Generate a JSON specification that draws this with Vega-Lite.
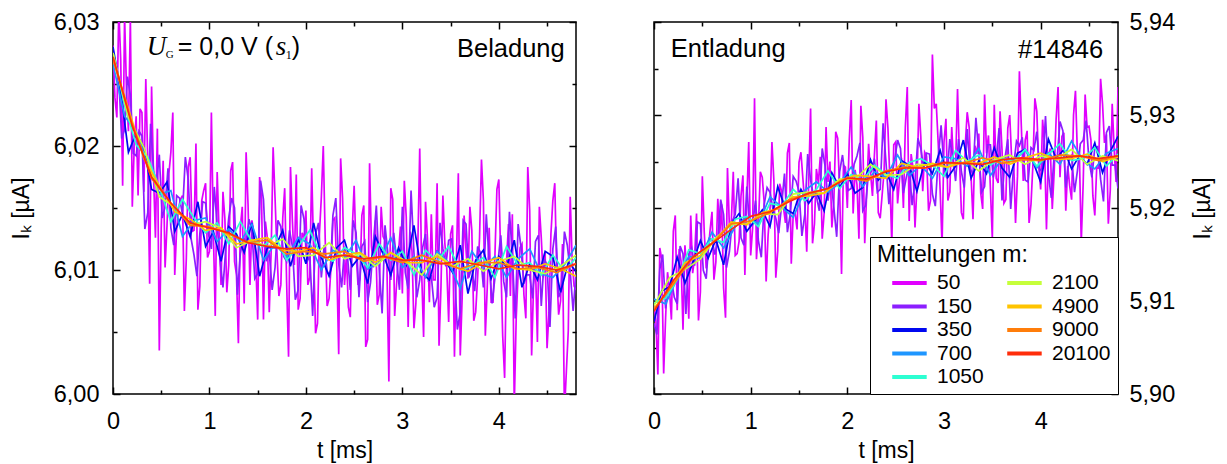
{
"$schema": "https://vega.github.io/schema/vega-lite/v6.json",
"background": "white",
"padding": {"left": 9, "right": 4, "top": 9, "bottom": 4},
"config": {
  "font": "Liberation Sans",
  "view": {"stroke": "black", "strokeWidth": 1.5},
  "axis": {"domain": false, "grid": false, "tickColor": "black", "tickWidth": 1.5, "labelColor": "black", "labelFontSize": 23.5, "labelFont": "Liberation Sans", "titleFont": "Liberation Sans", "titleFontSize": 23, "titleFontWeight": "normal", "titleColor": "black", "labelFlush": false, "labelOverlap": false}
},
"datasets": {
"L": [
{"m":50,"t":0,"v":6.0281},{"m":50,"t":0.04,"v":6.0223},{"m":50,"t":0.08,"v":6.0270},{"m":50,"t":0.12,"v":6.0305},{"m":50,"t":0.16,"v":6.0212},{"m":50,"t":0.2,"v":6.0151},{"m":50,"t":0.24,"v":6.0224},{"m":50,"t":0.28,"v":6.0230},{"m":50,"t":0.32,"v":6.0163},{"m":50,"t":0.36,"v":6.0189},
{"m":50,"t":0.4,"v":6.0248},{"m":50,"t":0.44,"v":6.0126},{"m":50,"t":0.48,"v":6.0035},{"m":50,"t":0.52,"v":6.0188},{"m":50,"t":0.56,"v":6.0136},{"m":50,"t":0.6,"v":6.0195},{"m":50,"t":0.64,"v":6.0096},{"m":50,"t":0.68,"v":6.0150},{"m":50,"t":0.72,"v":6.0160},{"m":50,"t":0.76,"v":6.0109},
{"m":50,"t":0.8,"v":6.0191},{"m":50,"t":0.84,"v":6.0132},{"m":50,"t":0.88,"v":6.0068},{"m":50,"t":0.92,"v":6.0156},{"m":50,"t":0.96,"v":6.0170},{"m":50,"t":1,"v":6.0115},{"m":50,"t":1.04,"v":6.0132},{"m":50,"t":1.08,"v":6.0179},{"m":50,"t":1.12,"v":6.0088},{"m":50,"t":1.16,"v":6.0141},
{"m":50,"t":1.2,"v":6.0104},{"m":50,"t":1.24,"v":6.0187},{"m":50,"t":1.28,"v":6.0096},{"m":50,"t":1.32,"v":6.0134},{"m":50,"t":1.36,"v":6.0073},{"m":50,"t":1.4,"v":6.0153},{"m":50,"t":1.44,"v":6.0140},{"m":50,"t":1.48,"v":6.0107},{"m":50,"t":1.52,"v":6.0175},{"m":50,"t":1.56,"v":6.0060},
{"m":50,"t":1.6,"v":6.0126},{"m":50,"t":1.64,"v":6.0116},{"m":50,"t":1.68,"v":6.0158},{"m":50,"t":1.72,"v":6.0079},{"m":50,"t":1.76,"v":6.0142},{"m":50,"t":1.8,"v":6.0090},{"m":50,"t":1.84,"v":6.0183},{"m":50,"t":1.88,"v":6.0104},{"m":50,"t":1.92,"v":6.0068},{"m":50,"t":1.96,"v":6.0130},
{"m":50,"t":2,"v":6.0148},{"m":50,"t":2.04,"v":6.0094},{"m":50,"t":2.08,"v":6.0114},{"m":50,"t":2.12,"v":6.0057},{"m":50,"t":2.16,"v":6.0159},{"m":50,"t":2.2,"v":6.0125},{"m":50,"t":2.24,"v":6.0077},{"m":50,"t":2.28,"v":6.0140},{"m":50,"t":2.32,"v":6.0103},{"m":50,"t":2.36,"v":6.0190},
{"m":50,"t":2.4,"v":6.0088},{"m":50,"t":2.44,"v":6.0070},{"m":50,"t":2.48,"v":6.0132},{"m":50,"t":2.52,"v":6.0114},{"m":50,"t":2.56,"v":6.0093},{"m":50,"t":2.6,"v":6.0152},{"m":50,"t":2.64,"v":6.0044},{"m":50,"t":2.68,"v":6.0119},{"m":50,"t":2.72,"v":6.0140},{"m":50,"t":2.76,"v":6.0080},
{"m":50,"t":2.8,"v":6.0127},{"m":50,"t":2.84,"v":6.0103},{"m":50,"t":2.88,"v":6.0166},{"m":50,"t":2.92,"v":6.0063},{"m":50,"t":2.96,"v":6.0114},{"m":50,"t":3,"v":6.0081},{"m":50,"t":3.04,"v":6.0143},{"m":50,"t":3.08,"v":6.0131},{"m":50,"t":3.12,"v":6.0053},{"m":50,"t":3.16,"v":6.0119},
{"m":50,"t":3.2,"v":6.0098},{"m":50,"t":3.24,"v":6.0155},{"m":50,"t":3.28,"v":6.0074},{"m":50,"t":3.32,"v":6.0092},{"m":50,"t":3.36,"v":6.0170},{"m":50,"t":3.4,"v":6.0086},{"m":50,"t":3.44,"v":6.0122},{"m":50,"t":3.48,"v":6.0058},{"m":50,"t":3.52,"v":6.0136},{"m":50,"t":3.56,"v":6.0106},
{"m":50,"t":3.6,"v":6.0031},{"m":50,"t":3.64,"v":6.0144},{"m":50,"t":3.68,"v":6.0093},{"m":50,"t":3.72,"v":6.0132},{"m":50,"t":3.76,"v":6.0066},{"m":50,"t":3.8,"v":6.0126},{"m":50,"t":3.84,"v":6.0156},{"m":50,"t":3.88,"v":6.0086},{"m":50,"t":3.92,"v":6.0074},{"m":50,"t":3.96,"v":6.0113},
{"m":50,"t":4,"v":6.0173},{"m":50,"t":4.04,"v":6.0047},{"m":50,"t":4.08,"v":6.0107},{"m":50,"t":4.12,"v":6.0079},{"m":50,"t":4.16,"v":5.9990},{"m":50,"t":4.2,"v":6.0097},{"m":50,"t":4.24,"v":6.0121},{"m":50,"t":4.28,"v":6.0061},{"m":50,"t":4.32,"v":6.0148},{"m":50,"t":4.36,"v":6.0088},
{"m":50,"t":4.4,"v":6.0042},{"m":50,"t":4.44,"v":6.0126},{"m":50,"t":4.48,"v":6.0114},{"m":50,"t":4.52,"v":6.0066},{"m":50,"t":4.56,"v":6.0156},{"m":50,"t":4.6,"v":6.0099},{"m":50,"t":4.64,"v":6.0075},{"m":50,"t":4.68,"v":5.9985},{"m":50,"t":4.72,"v":6.0051},{"m":50,"t":4.76,"v":6.0108},{"m":50,"t":4.8,"v":6.0084},
{"m":150,"t":0,"v":6.0269},{"m":150,"t":0.06,"v":6.0255},{"m":150,"t":0.12,"v":6.0213},{"m":150,"t":0.18,"v":6.0241},{"m":150,"t":0.24,"v":6.0192},{"m":150,"t":0.3,"v":6.0208},{"m":150,"t":0.36,"v":6.0146},{"m":150,"t":0.42,"v":6.0180},{"m":150,"t":0.48,"v":6.0193},{"m":150,"t":0.54,"v":6.0151},
{"m":150,"t":0.6,"v":6.0134},{"m":150,"t":0.66,"v":6.0160},{"m":150,"t":0.72,"v":6.0145},{"m":150,"t":0.78,"v":6.0173},{"m":150,"t":0.84,"v":6.0112},{"m":150,"t":0.9,"v":6.0129},{"m":150,"t":0.96,"v":6.0154},{"m":150,"t":1.02,"v":6.0117},{"m":150,"t":1.08,"v":6.0136},{"m":150,"t":1.14,"v":6.0086},
{"m":150,"t":1.2,"v":6.0142},{"m":150,"t":1.26,"v":6.0150},{"m":150,"t":1.32,"v":6.0113},{"m":150,"t":1.38,"v":6.0122},{"m":150,"t":1.44,"v":6.0132},{"m":150,"t":1.5,"v":6.0097},{"m":150,"t":1.56,"v":6.0157},{"m":150,"t":1.62,"v":6.0114},{"m":150,"t":1.68,"v":6.0102},{"m":150,"t":1.74,"v":6.0135},
{"m":150,"t":1.8,"v":6.0107},{"m":150,"t":1.86,"v":6.0119},{"m":150,"t":1.92,"v":6.0084},{"m":150,"t":1.98,"v":6.0141},{"m":150,"t":2.04,"v":6.0112},{"m":150,"t":2.1,"v":6.0129},{"m":150,"t":2.16,"v":6.0094},{"m":150,"t":2.22,"v":6.0099},{"m":150,"t":2.28,"v":6.0144},{"m":150,"t":2.34,"v":6.0105},
{"m":150,"t":2.4,"v":6.0117},{"m":150,"t":2.46,"v":6.0084},{"m":150,"t":2.52,"v":6.0130},{"m":150,"t":2.58,"v":6.0119},{"m":150,"t":2.64,"v":6.0074},{"m":150,"t":2.7,"v":6.0122},{"m":150,"t":2.76,"v":6.0101},{"m":150,"t":2.82,"v":6.0136},{"m":150,"t":2.88,"v":6.0092},{"m":150,"t":2.94,"v":6.0108},
{"m":150,"t":3,"v":6.0151},{"m":150,"t":3.06,"v":6.0085},{"m":150,"t":3.12,"v":6.0114},{"m":150,"t":3.18,"v":6.0092},{"m":150,"t":3.24,"v":6.0129},{"m":150,"t":3.3,"v":6.0095},{"m":150,"t":3.36,"v":6.0078},{"m":150,"t":3.42,"v":6.0117},{"m":150,"t":3.48,"v":6.0124},{"m":150,"t":3.54,"v":6.0100},
{"m":150,"t":3.6,"v":6.0066},{"m":150,"t":3.66,"v":6.0137},{"m":150,"t":3.72,"v":6.0103},{"m":150,"t":3.78,"v":6.0119},{"m":150,"t":3.84,"v":6.0086},{"m":150,"t":3.9,"v":6.0107},{"m":150,"t":3.96,"v":6.0094},{"m":150,"t":4.02,"v":6.0128},{"m":150,"t":4.08,"v":6.0078},{"m":150,"t":4.14,"v":6.0112},
{"m":150,"t":4.2,"v":6.0137},{"m":150,"t":4.26,"v":6.0089},{"m":150,"t":4.32,"v":6.0096},{"m":150,"t":4.38,"v":6.0123},{"m":150,"t":4.44,"v":6.0071},{"m":150,"t":4.5,"v":6.0104},{"m":150,"t":4.56,"v":6.0117},{"m":150,"t":4.62,"v":6.0078},{"m":150,"t":4.68,"v":6.0131},{"m":150,"t":4.74,"v":6.0099},{"m":150,"t":4.8,"v":6.0097},
{"m":350,"t":0,"v":6.0280},{"m":350,"t":0.08,"v":6.0244},{"m":350,"t":0.16,"v":6.0195},{"m":350,"t":0.24,"v":6.0210},{"m":350,"t":0.32,"v":6.0199},{"m":350,"t":0.4,"v":6.0165},{"m":350,"t":0.48,"v":6.0162},{"m":350,"t":0.56,"v":6.0171},{"m":350,"t":0.64,"v":6.0131},{"m":350,"t":0.72,"v":6.0145},
{"m":350,"t":0.8,"v":6.0127},{"m":350,"t":0.88,"v":6.0155},{"m":350,"t":0.96,"v":6.0119},{"m":350,"t":1.04,"v":6.0131},{"m":350,"t":1.12,"v":6.0107},{"m":350,"t":1.2,"v":6.0135},{"m":350,"t":1.28,"v":6.0129},{"m":350,"t":1.36,"v":6.0114},{"m":350,"t":1.44,"v":6.0138},{"m":350,"t":1.52,"v":6.0095},
{"m":350,"t":1.6,"v":6.0118},{"m":350,"t":1.68,"v":6.0118},{"m":350,"t":1.76,"v":6.0132},{"m":350,"t":1.84,"v":6.0103},{"m":350,"t":1.92,"v":6.0125},{"m":350,"t":2,"v":6.0105},{"m":350,"t":2.08,"v":6.0138},{"m":350,"t":2.16,"v":6.0110},{"m":350,"t":2.24,"v":6.0095},{"m":350,"t":2.32,"v":6.0118},
{"m":350,"t":2.4,"v":6.0124},{"m":350,"t":2.48,"v":6.0103},{"m":350,"t":2.56,"v":6.0111},{"m":350,"t":2.64,"v":6.0089},{"m":350,"t":2.72,"v":6.0127},{"m":350,"t":2.8,"v":6.0113},{"m":350,"t":2.88,"v":6.0096},{"m":350,"t":2.96,"v":6.0118},{"m":350,"t":3.04,"v":6.0104},{"m":350,"t":3.12,"v":6.0136},
{"m":350,"t":3.2,"v":6.0098},{"m":350,"t":3.28,"v":6.0092},{"m":350,"t":3.36,"v":6.0115},{"m":350,"t":3.44,"v":6.0108},{"m":350,"t":3.52,"v":6.0098},{"m":350,"t":3.6,"v":6.0120},{"m":350,"t":3.68,"v":6.0081},{"m":350,"t":3.76,"v":6.0108},{"m":350,"t":3.84,"v":6.0116},{"m":350,"t":3.92,"v":6.0093},
{"m":350,"t":4,"v":6.0111},{"m":350,"t":4.08,"v":6.0102},{"m":350,"t":4.16,"v":6.0124},{"m":350,"t":4.24,"v":6.0086},{"m":350,"t":4.32,"v":6.0105},{"m":350,"t":4.4,"v":6.0092},{"m":350,"t":4.48,"v":6.0115},{"m":350,"t":4.56,"v":6.0111},{"m":350,"t":4.64,"v":6.0082},{"m":350,"t":4.72,"v":6.0106},{"m":350,"t":4.8,"v":6.0099},
{"m":700,"t":0,"v":6.0266},{"m":700,"t":0.12,"v":6.0224},{"m":700,"t":0.24,"v":6.0212},{"m":700,"t":0.36,"v":6.0184},{"m":700,"t":0.48,"v":6.0161},{"m":700,"t":0.6,"v":6.0164},{"m":700,"t":0.72,"v":6.0127},{"m":700,"t":0.84,"v":6.0140},{"m":700,"t":0.96,"v":6.0142},{"m":700,"t":1.08,"v":6.0123},
{"m":700,"t":1.2,"v":6.0133},{"m":700,"t":1.32,"v":6.0123},{"m":700,"t":1.44,"v":6.0137},{"m":700,"t":1.56,"v":6.0108},{"m":700,"t":1.68,"v":6.0121},{"m":700,"t":1.8,"v":6.0110},{"m":700,"t":1.92,"v":6.0126},{"m":700,"t":2.04,"v":6.0121},{"m":700,"t":2.16,"v":6.0100},{"m":700,"t":2.28,"v":6.0116},
{"m":700,"t":2.4,"v":6.0110},{"m":700,"t":2.52,"v":6.0124},{"m":700,"t":2.64,"v":6.0101},{"m":700,"t":2.76,"v":6.0106},{"m":700,"t":2.88,"v":6.0126},{"m":700,"t":3,"v":6.0102},{"m":700,"t":3.12,"v":6.0111},{"m":700,"t":3.24,"v":6.0094},{"m":700,"t":3.36,"v":6.0115},{"m":700,"t":3.48,"v":6.0106},
{"m":700,"t":3.6,"v":6.0085},{"m":700,"t":3.72,"v":6.0115},{"m":700,"t":3.84,"v":6.0102},{"m":700,"t":3.96,"v":6.0111},{"m":700,"t":4.08,"v":6.0094},{"m":700,"t":4.2,"v":6.0109},{"m":700,"t":4.32,"v":6.0117},{"m":700,"t":4.44,"v":6.0097},{"m":700,"t":4.56,"v":6.0094},{"m":700,"t":4.68,"v":6.0104},{"m":700,"t":4.8,"v":6.0120},
{"m":1050,"t":0,"v":6.0275},{"m":1050,"t":0.12,"v":6.0233},{"m":1050,"t":0.24,"v":6.0201},{"m":1050,"t":0.36,"v":6.0191},{"m":1050,"t":0.48,"v":6.0167},{"m":1050,"t":0.6,"v":6.0139},{"m":1050,"t":0.72,"v":6.0157},{"m":1050,"t":0.84,"v":6.0142},{"m":1050,"t":0.96,"v":6.0130},{"m":1050,"t":1.08,"v":6.0138},
{"m":1050,"t":1.2,"v":6.0121},{"m":1050,"t":1.32,"v":6.0139},{"m":1050,"t":1.44,"v":6.0123},{"m":1050,"t":1.56,"v":6.0119},{"m":1050,"t":1.68,"v":6.0128},{"m":1050,"t":1.8,"v":6.0108},{"m":1050,"t":1.92,"v":6.0119},{"m":1050,"t":2.04,"v":6.0132},{"m":1050,"t":2.16,"v":6.0111},{"m":1050,"t":2.28,"v":6.0107},
{"m":1050,"t":2.4,"v":6.0118},{"m":1050,"t":2.52,"v":6.0113},{"m":1050,"t":2.64,"v":6.0102},{"m":1050,"t":2.76,"v":6.0121},{"m":1050,"t":2.88,"v":6.0108},{"m":1050,"t":3,"v":6.0115},{"m":1050,"t":3.12,"v":6.0096},{"m":1050,"t":3.24,"v":6.0116},{"m":1050,"t":3.36,"v":6.0107},{"m":1050,"t":3.48,"v":6.0119},
{"m":1050,"t":3.6,"v":6.0100},{"m":1050,"t":3.72,"v":6.0103},{"m":1050,"t":3.84,"v":6.0110},{"m":1050,"t":3.96,"v":6.0094},{"m":1050,"t":4.08,"v":6.0119},{"m":1050,"t":4.2,"v":6.0104},{"m":1050,"t":4.32,"v":6.0106},{"m":1050,"t":4.44,"v":6.0096},{"m":1050,"t":4.56,"v":6.0112},{"m":1050,"t":4.68,"v":6.0099},{"m":1050,"t":4.8,"v":6.0110},
{"m":2100,"t":0,"v":6.0275},{"m":2100,"t":0.16,"v":6.0223},{"m":2100,"t":0.32,"v":6.0199},{"m":2100,"t":0.48,"v":6.0159},{"m":2100,"t":0.64,"v":6.0151},{"m":2100,"t":0.8,"v":6.0136},{"m":2100,"t":0.96,"v":6.0139},{"m":2100,"t":1.12,"v":6.0134},{"m":2100,"t":1.28,"v":6.0118},{"m":2100,"t":1.44,"v":6.0124},
{"m":2100,"t":1.6,"v":6.0119},{"m":2100,"t":1.76,"v":6.0125},{"m":2100,"t":1.92,"v":6.0111},{"m":2100,"t":2.08,"v":6.0112},{"m":2100,"t":2.24,"v":6.0122},{"m":2100,"t":2.4,"v":6.0109},{"m":2100,"t":2.56,"v":6.0113},{"m":2100,"t":2.72,"v":6.0103},{"m":2100,"t":2.88,"v":6.0114},{"m":2100,"t":3.04,"v":6.0107},
{"m":2100,"t":3.2,"v":6.0096},{"m":2100,"t":3.36,"v":6.0113},{"m":2100,"t":3.52,"v":6.0103},{"m":2100,"t":3.68,"v":6.0109},{"m":2100,"t":3.84,"v":6.0099},{"m":2100,"t":4,"v":6.0107},{"m":2100,"t":4.16,"v":6.0111},{"m":2100,"t":4.32,"v":6.0100},{"m":2100,"t":4.48,"v":6.0097},{"m":2100,"t":4.64,"v":6.0103},{"m":2100,"t":4.8,"v":6.0112},
{"m":4900,"t":0,"v":6.0270},{"m":4900,"t":0.16,"v":6.0230},{"m":4900,"t":0.32,"v":6.0190},{"m":4900,"t":0.48,"v":6.0168},{"m":4900,"t":0.64,"v":6.0147},{"m":4900,"t":0.8,"v":6.0141},{"m":4900,"t":0.96,"v":6.0132},{"m":4900,"t":1.12,"v":6.0134},{"m":4900,"t":1.28,"v":6.0121},{"m":4900,"t":1.44,"v":6.0124},
{"m":4900,"t":1.6,"v":6.0126},{"m":4900,"t":1.76,"v":6.0116},{"m":4900,"t":1.92,"v":6.0115},{"m":4900,"t":2.08,"v":6.0118},{"m":4900,"t":2.24,"v":6.0108},{"m":4900,"t":2.4,"v":6.0112},{"m":4900,"t":2.56,"v":6.0114},{"m":4900,"t":2.72,"v":6.0106},{"m":4900,"t":2.88,"v":6.0114},{"m":4900,"t":3.04,"v":6.0106},
{"m":4900,"t":3.2,"v":6.0106},{"m":4900,"t":3.36,"v":6.0111},{"m":4900,"t":3.52,"v":6.0103},{"m":4900,"t":3.68,"v":6.0099},{"m":4900,"t":3.84,"v":6.0106},{"m":4900,"t":4,"v":6.0110},{"m":4900,"t":4.16,"v":6.0101},{"m":4900,"t":4.32,"v":6.0100},{"m":4900,"t":4.48,"v":6.0105},{"m":4900,"t":4.64,"v":6.0101},{"m":4900,"t":4.8,"v":6.0095},
{"m":9000,"t":0,"v":6.0270},{"m":9000,"t":0.2,"v":6.0218},{"m":9000,"t":0.4,"v":6.0174},{"m":9000,"t":0.6,"v":6.0154},{"m":9000,"t":0.8,"v":6.0136},{"m":9000,"t":1,"v":6.0135},{"m":9000,"t":1.2,"v":6.0129},{"m":9000,"t":1.4,"v":6.0122},{"m":9000,"t":1.6,"v":6.0124},{"m":9000,"t":1.8,"v":6.0113},
{"m":9000,"t":2,"v":6.0115},{"m":9000,"t":2.2,"v":6.0113},{"m":9000,"t":2.4,"v":6.0115},{"m":9000,"t":2.6,"v":6.0107},{"m":9000,"t":2.8,"v":6.0111},{"m":9000,"t":3,"v":6.0106},{"m":9000,"t":3.2,"v":6.0112},{"m":9000,"t":3.4,"v":6.0106},{"m":9000,"t":3.6,"v":6.0101},{"m":9000,"t":3.8,"v":6.0106},
{"m":9000,"t":4,"v":6.0106},{"m":9000,"t":4.2,"v":6.0101},{"m":9000,"t":4.4,"v":6.0102},{"m":9000,"t":4.6,"v":6.0098},{"m":9000,"t":4.8,"v":6.0105},
{"m":20100,"t":0,"v":6.0272},{"m":20100,"t":0.2,"v":6.0216},{"m":20100,"t":0.4,"v":6.0175},{"m":20100,"t":0.6,"v":6.0154},{"m":20100,"t":0.8,"v":6.0138},{"m":20100,"t":1,"v":6.0134},{"m":20100,"t":1.2,"v":6.0130},{"m":20100,"t":1.4,"v":6.0122},{"m":20100,"t":1.6,"v":6.0119},{"m":20100,"t":1.8,"v":6.0117},
{"m":20100,"t":2,"v":6.0118},{"m":20100,"t":2.2,"v":6.0110},{"m":20100,"t":2.4,"v":6.0112},{"m":20100,"t":2.6,"v":6.0109},{"m":20100,"t":2.8,"v":6.0111},{"m":20100,"t":3,"v":6.0108},{"m":20100,"t":3.2,"v":6.0108},{"m":20100,"t":3.4,"v":6.0105},{"m":20100,"t":3.6,"v":6.0107},{"m":20100,"t":3.8,"v":6.0104},
{"m":20100,"t":4,"v":6.0101},{"m":20100,"t":4.2,"v":6.0104},{"m":20100,"t":4.4,"v":6.0103},{"m":20100,"t":4.6,"v":6.0100},{"m":20100,"t":4.8,"v":6.0105},
{"m":50,"t":0.02,"v":6.0239},{"m":50,"t":0.06,"v":6.0310},{"m":50,"t":0.1,"v":6.0168},{"m":50,"t":0.14,"v":6.0245},{"m":50,"t":0.18,"v":6.0303},{"m":50,"t":0.22,"v":6.0199},{"m":50,"t":0.26,"v":6.0160},{"m":50,"t":0.3,"v":6.0227},{"m":50,"t":0.34,"v":6.0254},{"m":50,"t":0.38,"v":6.0089},
{"m":50,"t":0.42,"v":6.0177},{"m":50,"t":0.46,"v":6.0214},{"m":50,"t":0.5,"v":6.0133},{"m":50,"t":0.54,"v":6.0102},{"m":50,"t":0.58,"v":6.0178},{"m":50,"t":0.62,"v":6.0227},{"m":50,"t":0.66,"v":6.0133},{"m":50,"t":0.7,"v":6.0157},{"m":50,"t":0.74,"v":6.0067},{"m":50,"t":0.78,"v":6.0183},
{"m":50,"t":0.82,"v":6.0131},{"m":50,"t":0.86,"v":6.0202},{"m":50,"t":0.9,"v":6.0087},{"m":50,"t":0.94,"v":6.0164},{"m":50,"t":0.98,"v":6.0110},{"m":50,"t":1.02,"v":6.0227},{"m":50,"t":1.06,"v":6.0063},{"m":50,"t":1.1,"v":6.0130},{"m":50,"t":1.14,"v":6.0163},{"m":50,"t":1.18,"v":6.0082},
{"m":50,"t":1.22,"v":6.0180},{"m":50,"t":1.26,"v":6.0107},{"m":50,"t":1.3,"v":6.0041},{"m":50,"t":1.34,"v":6.0151},{"m":50,"t":1.38,"v":6.0195},{"m":50,"t":1.42,"v":6.0088},{"m":50,"t":1.46,"v":6.0130},{"m":50,"t":1.5,"v":6.0060},{"m":50,"t":1.54,"v":6.0158},{"m":50,"t":1.58,"v":6.0139},
{"m":50,"t":1.62,"v":6.0066},{"m":50,"t":1.66,"v":6.0199},{"m":50,"t":1.7,"v":6.0114},{"m":50,"t":1.74,"v":6.0088},{"m":50,"t":1.78,"v":6.0166},{"m":50,"t":1.82,"v":6.0030},{"m":50,"t":1.86,"v":6.0139},{"m":50,"t":1.9,"v":6.0177},{"m":50,"t":1.94,"v":6.0077},{"m":50,"t":1.98,"v":6.0126},
{"m":50,"t":2.02,"v":6.0088},{"m":50,"t":2.06,"v":6.0182},{"m":50,"t":2.1,"v":6.0049},{"m":50,"t":2.14,"v":6.0129},{"m":50,"t":2.18,"v":6.0200},{"m":50,"t":2.22,"v":6.0071},{"m":50,"t":2.26,"v":6.0102},{"m":50,"t":2.3,"v":6.0142},{"m":50,"t":2.34,"v":6.0032},{"m":50,"t":2.38,"v":6.0158},
{"m":50,"t":2.42,"v":6.0112},{"m":50,"t":2.46,"v":6.0062},{"m":50,"t":2.5,"v":6.0168},{"m":50,"t":2.54,"v":6.0088},{"m":50,"t":2.58,"v":6.0144},{"m":50,"t":2.62,"v":6.0038},{"m":50,"t":2.66,"v":6.0186},{"m":50,"t":2.7,"v":6.0102},{"m":50,"t":2.74,"v":6.0072},{"m":50,"t":2.78,"v":6.0151},
{"m":50,"t":2.82,"v":6.0124},{"m":50,"t":2.86,"v":6.0010},{"m":50,"t":2.9,"v":6.0157},{"m":50,"t":2.94,"v":6.0089},{"m":50,"t":2.98,"v":6.0135},{"m":50,"t":3.02,"v":6.0172},{"m":50,"t":3.06,"v":6.0054},{"m":50,"t":3.1,"v":6.0115},{"m":50,"t":3.14,"v":6.0073},{"m":50,"t":3.18,"v":6.0198},
{"m":50,"t":3.22,"v":6.0046},{"m":50,"t":3.26,"v":6.0126},{"m":50,"t":3.3,"v":6.0145},{"m":50,"t":3.34,"v":6.0092},{"m":50,"t":3.38,"v":6.0039},{"m":50,"t":3.42,"v":6.0160},{"m":50,"t":3.46,"v":6.0102},{"m":50,"t":3.5,"v":6.0129},{"m":50,"t":3.54,"v":6.0030},{"m":50,"t":3.58,"v":6.0178},
{"m":50,"t":3.62,"v":6.0078},{"m":50,"t":3.66,"v":6.0116},{"m":50,"t":3.7,"v":6.0151},{"m":50,"t":3.74,"v":6.0059},{"m":50,"t":3.78,"v":6.0094},{"m":50,"t":3.82,"v":6.0189},{"m":50,"t":3.86,"v":6.0047},{"m":50,"t":3.9,"v":6.0134},{"m":50,"t":3.94,"v":6.0074},{"m":50,"t":3.98,"v":6.0165},
{"m":50,"t":4.02,"v":6.0108},{"m":50,"t":4.06,"v":6.0013},{"m":50,"t":4.1,"v":6.0137},{"m":50,"t":4.14,"v":6.0145},{"m":50,"t":4.18,"v":6.0061},{"m":50,"t":4.22,"v":6.0118},{"m":50,"t":4.26,"v":6.0080},{"m":50,"t":4.3,"v":6.0183},{"m":50,"t":4.34,"v":6.0031},{"m":50,"t":4.38,"v":6.0103},
{"m":50,"t":4.42,"v":6.0151},{"m":50,"t":4.46,"v":6.0094},{"m":50,"t":4.5,"v":6.0037},{"m":50,"t":4.54,"v":6.0129},{"m":50,"t":4.58,"v":6.0170},{"m":50,"t":4.62,"v":6.0064},{"m":50,"t":4.66,"v":6.0121},{"m":50,"t":4.7,"v":6.0018},{"m":50,"t":4.74,"v":6.0159},{"m":50,"t":4.78,"v":6.0087},
{"m":150,"t":0.03,"v":6.0266},{"m":150,"t":0.09,"v":6.0206},{"m":150,"t":0.15,"v":6.0256},{"m":150,"t":0.21,"v":6.0194},{"m":150,"t":0.27,"v":6.0212},{"m":150,"t":0.33,"v":6.0133},{"m":150,"t":0.39,"v":6.0218},{"m":150,"t":0.45,"v":6.0170},{"m":150,"t":0.51,"v":6.0142},{"m":150,"t":0.57,"v":6.0182},
{"m":150,"t":0.63,"v":6.0120},{"m":150,"t":0.69,"v":6.0158},{"m":150,"t":0.75,"v":6.0191},{"m":150,"t":0.81,"v":6.0125},{"m":150,"t":0.87,"v":6.0095},{"m":150,"t":0.93,"v":6.0155},{"m":150,"t":0.99,"v":6.0129},{"m":150,"t":1.05,"v":6.0167},{"m":150,"t":1.11,"v":6.0108},{"m":150,"t":1.17,"v":6.0118},
{"m":150,"t":1.23,"v":6.0158},{"m":150,"t":1.29,"v":6.0080},{"m":150,"t":1.35,"v":6.0126},{"m":150,"t":1.41,"v":6.0141},{"m":150,"t":1.47,"v":6.0093},{"m":150,"t":1.53,"v":6.0172},{"m":150,"t":1.59,"v":6.0107},{"m":150,"t":1.65,"v":6.0084},{"m":150,"t":1.71,"v":6.0140},{"m":150,"t":1.77,"v":6.0111},
{"m":150,"t":1.83,"v":6.0132},{"m":150,"t":1.89,"v":6.0076},{"m":150,"t":1.95,"v":6.0152},{"m":150,"t":2.01,"v":6.0106},{"m":150,"t":2.07,"v":6.0063},{"m":150,"t":2.13,"v":6.0138},{"m":150,"t":2.19,"v":6.0120},{"m":150,"t":2.25,"v":6.0095},{"m":150,"t":2.31,"v":6.0158},{"m":150,"t":2.37,"v":6.0086},
{"m":150,"t":2.43,"v":6.0112},{"m":150,"t":2.49,"v":6.0140},{"m":150,"t":2.55,"v":6.0078},{"m":150,"t":2.61,"v":6.0123},{"m":150,"t":2.67,"v":6.0090},{"m":150,"t":2.73,"v":6.0152},{"m":150,"t":2.79,"v":6.0065},{"m":150,"t":2.85,"v":6.0113},{"m":150,"t":2.91,"v":6.0130},{"m":150,"t":2.97,"v":6.0084},
{"m":150,"t":3.03,"v":6.0098},{"m":150,"t":3.09,"v":6.0164},{"m":150,"t":3.15,"v":6.0078},{"m":150,"t":3.21,"v":6.0118},{"m":150,"t":3.27,"v":6.0092},{"m":150,"t":3.33,"v":6.0070},{"m":150,"t":3.39,"v":6.0138},{"m":150,"t":3.45,"v":6.0103},{"m":150,"t":3.51,"v":6.0125},{"m":150,"t":3.57,"v":6.0052},
{"m":150,"t":3.63,"v":6.0140},{"m":150,"t":3.69,"v":6.0094},{"m":150,"t":3.75,"v":6.0083},{"m":150,"t":3.81,"v":6.0114},{"m":150,"t":3.87,"v":6.0145},{"m":150,"t":3.93,"v":6.0073},{"m":150,"t":3.99,"v":6.0106},{"m":150,"t":4.05,"v":6.0091},{"m":150,"t":4.11,"v":6.0147},{"m":150,"t":4.17,"v":6.0061},
{"m":150,"t":4.23,"v":6.0118},{"m":150,"t":4.29,"v":6.0096},{"m":150,"t":4.35,"v":6.0077},{"m":150,"t":4.41,"v":6.0128},{"m":150,"t":4.47,"v":6.0109},{"m":150,"t":4.53,"v":6.0054},{"m":150,"t":4.59,"v":6.0135},{"m":150,"t":4.65,"v":6.0084},{"m":150,"t":4.71,"v":6.0120},{"m":150,"t":4.77,"v":6.0067}
],
"R": [
{"m":50,"t":0,"v":5.9096},{"m":50,"t":0.04,"v":5.9021},{"m":50,"t":0.08,"v":5.9145},{"m":50,"t":0.12,"v":5.9082},{"m":50,"t":0.16,"v":5.9112},{"m":50,"t":0.2,"v":5.9175},{"m":50,"t":0.24,"v":5.9090},{"m":50,"t":0.28,"v":5.9143},{"m":50,"t":0.32,"v":5.9160},{"m":50,"t":0.36,"v":5.9081},
{"m":50,"t":0.4,"v":5.9130},{"m":50,"t":0.44,"v":5.9194},{"m":50,"t":0.48,"v":5.9110},{"m":50,"t":0.52,"v":5.9174},{"m":50,"t":0.56,"v":5.9153},{"m":50,"t":0.6,"v":5.9196},{"m":50,"t":0.64,"v":5.9142},{"m":50,"t":0.68,"v":5.9172},{"m":50,"t":0.72,"v":5.9114},{"m":50,"t":0.76,"v":5.9243},
{"m":50,"t":0.8,"v":5.9186},{"m":50,"t":0.84,"v":5.9149},{"m":50,"t":0.88,"v":5.9164},{"m":50,"t":0.92,"v":5.9235},{"m":50,"t":0.96,"v":5.9207},{"m":50,"t":1,"v":5.9149},{"m":50,"t":1.04,"v":5.9318},{"m":50,"t":1.08,"v":5.9180},{"m":50,"t":1.12,"v":5.9233},{"m":50,"t":1.16,"v":5.9121},
{"m":50,"t":1.2,"v":5.9198},{"m":50,"t":1.24,"v":5.9230},{"m":50,"t":1.28,"v":5.9154},{"m":50,"t":1.32,"v":5.9218},{"m":50,"t":1.36,"v":5.9184},{"m":50,"t":1.4,"v":5.9270},{"m":50,"t":1.44,"v":5.9193},{"m":50,"t":1.48,"v":5.9177},{"m":50,"t":1.52,"v":5.9260},{"m":50,"t":1.56,"v":5.9204},
{"m":50,"t":1.6,"v":5.9227},{"m":50,"t":1.64,"v":5.9162},{"m":50,"t":1.68,"v":5.9242},{"m":50,"t":1.72,"v":5.9255},{"m":50,"t":1.76,"v":5.9194},{"m":50,"t":1.8,"v":5.9228},{"m":50,"t":1.84,"v":5.9179},{"m":50,"t":1.88,"v":5.9282},{"m":50,"t":1.92,"v":5.9221},{"m":50,"t":1.96,"v":5.9246},
{"m":50,"t":2,"v":5.9200},{"m":50,"t":2.04,"v":5.9316},{"m":50,"t":2.08,"v":5.9241},{"m":50,"t":2.12,"v":5.9167},{"m":50,"t":2.16,"v":5.9276},{"m":50,"t":2.2,"v":5.9216},{"m":50,"t":2.24,"v":5.9238},{"m":50,"t":2.28,"v":5.9257},{"m":50,"t":2.32,"v":5.9195},{"m":50,"t":2.36,"v":5.9214},
{"m":50,"t":2.4,"v":5.9317},{"m":50,"t":2.44,"v":5.9231},{"m":50,"t":2.48,"v":5.9268},{"m":50,"t":2.52,"v":5.9205},{"m":50,"t":2.56,"v":5.9254},{"m":50,"t":2.6,"v":5.9287},{"m":50,"t":2.64,"v":5.9186},{"m":50,"t":2.68,"v":5.9243},{"m":50,"t":2.72,"v":5.9223},{"m":50,"t":2.76,"v":5.9277},
{"m":50,"t":2.8,"v":5.9260},{"m":50,"t":2.84,"v":5.9197},{"m":50,"t":2.88,"v":5.9365},{"m":50,"t":2.92,"v":5.9312},{"m":50,"t":2.96,"v":5.9220},{"m":50,"t":3,"v":5.9271},{"m":50,"t":3.04,"v":5.9208},{"m":50,"t":3.08,"v":5.9287},{"m":50,"t":3.12,"v":5.9245},{"m":50,"t":3.16,"v":5.9254},
{"m":50,"t":3.2,"v":5.9188},{"m":50,"t":3.24,"v":5.9303},{"m":50,"t":3.28,"v":5.9234},{"m":50,"t":3.32,"v":5.9267},{"m":50,"t":3.36,"v":5.9280},{"m":50,"t":3.4,"v":5.9199},{"m":50,"t":3.44,"v":5.9259},{"m":50,"t":3.48,"v":5.9221},{"m":50,"t":3.52,"v":5.9311},{"m":50,"t":3.56,"v":5.9227},
{"m":50,"t":3.6,"v":5.9263},{"m":50,"t":3.64,"v":5.9209},{"m":50,"t":3.68,"v":5.9300},{"m":50,"t":3.72,"v":5.9252},{"m":50,"t":3.76,"v":5.9234},{"m":50,"t":3.8,"v":5.9288},{"m":50,"t":3.84,"v":5.9273},{"m":50,"t":3.88,"v":5.9184},{"m":50,"t":3.92,"v":5.9247},{"m":50,"t":3.96,"v":5.9304},
{"m":50,"t":4,"v":5.9220},{"m":50,"t":4.04,"v":5.9268},{"m":50,"t":4.08,"v":5.9256},{"m":50,"t":4.12,"v":5.9199},{"m":50,"t":4.16,"v":5.9296},{"m":50,"t":4.2,"v":5.9233},{"m":50,"t":4.24,"v":5.9281},{"m":50,"t":4.28,"v":5.9245},{"m":50,"t":4.32,"v":5.9209},{"m":50,"t":4.36,"v":5.9326},
{"m":50,"t":4.4,"v":5.9260},{"m":50,"t":4.44,"v":5.9227},{"m":50,"t":4.48,"v":5.9287},{"m":50,"t":4.52,"v":5.9273},{"m":50,"t":4.56,"v":5.9192},{"m":50,"t":4.6,"v":5.9243},{"m":50,"t":4.64,"v":5.9312},{"m":50,"t":4.68,"v":5.9279},{"m":50,"t":4.72,"v":5.9219},{"m":50,"t":4.76,"v":5.9264},{"m":50,"t":4.8,"v":5.9330},
{"m":150,"t":0,"v":5.9076},{"m":150,"t":0.06,"v":5.9134},{"m":150,"t":0.12,"v":5.9092},{"m":150,"t":0.18,"v":5.9123},{"m":150,"t":0.24,"v":5.9097},{"m":150,"t":0.3,"v":5.9151},{"m":150,"t":0.36,"v":5.9151},{"m":150,"t":0.42,"v":5.9138},{"m":150,"t":0.48,"v":5.9183},{"m":150,"t":0.54,"v":5.9124},
{"m":150,"t":0.6,"v":5.9166},{"m":150,"t":0.66,"v":5.9165},{"m":150,"t":0.72,"v":5.9193},{"m":150,"t":0.78,"v":5.9153},{"m":150,"t":0.84,"v":5.9193},{"m":150,"t":0.9,"v":5.9168},{"m":150,"t":0.96,"v":5.9223},{"m":150,"t":1.02,"v":5.9182},{"m":150,"t":1.08,"v":5.9165},{"m":150,"t":1.14,"v":5.9204},
{"m":150,"t":1.2,"v":5.9217},{"m":150,"t":1.26,"v":5.9189},{"m":150,"t":1.32,"v":5.9203},{"m":150,"t":1.38,"v":5.9174},{"m":150,"t":1.44,"v":5.9234},{"m":150,"t":1.5,"v":5.9218},{"m":150,"t":1.56,"v":5.9193},{"m":150,"t":1.62,"v":5.9230},{"m":150,"t":1.68,"v":5.9213},{"m":150,"t":1.74,"v":5.9264},
{"m":150,"t":1.8,"v":5.9208},{"m":150,"t":1.86,"v":5.9201},{"m":150,"t":1.92,"v":5.9239},{"m":150,"t":1.98,"v":5.9231},{"m":150,"t":2.04,"v":5.9221},{"m":150,"t":2.1,"v":5.9256},{"m":150,"t":2.16,"v":5.9197},{"m":150,"t":2.22,"v":5.9240},{"m":150,"t":2.28,"v":5.9253},{"m":150,"t":2.34,"v":5.9220},
{"m":150,"t":2.4,"v":5.9249},{"m":150,"t":2.46,"v":5.9237},{"m":150,"t":2.52,"v":5.9273},{"m":150,"t":2.58,"v":5.9216},{"m":150,"t":2.64,"v":5.9246},{"m":150,"t":2.7,"v":5.9228},{"m":150,"t":2.76,"v":5.9264},{"m":150,"t":2.82,"v":5.9259},{"m":150,"t":2.88,"v":5.9215},{"m":150,"t":2.94,"v":5.9253},
{"m":150,"t":3,"v":5.9242},{"m":150,"t":3.06,"v":5.9274},{"m":150,"t":3.12,"v":5.9229},{"m":150,"t":3.18,"v":5.9239},{"m":150,"t":3.24,"v":5.9285},{"m":150,"t":3.3,"v":5.9237},{"m":150,"t":3.36,"v":5.9259},{"m":150,"t":3.42,"v":5.9223},{"m":150,"t":3.48,"v":5.9268},{"m":150,"t":3.54,"v":5.9251},
{"m":150,"t":3.6,"v":5.9208},{"m":150,"t":3.66,"v":5.9274},{"m":150,"t":3.72,"v":5.9245},{"m":150,"t":3.78,"v":5.9267},{"m":150,"t":3.84,"v":5.9230},{"m":150,"t":3.9,"v":5.9265},{"m":150,"t":3.96,"v":5.9282},{"m":150,"t":4.02,"v":5.9243},{"m":150,"t":4.08,"v":5.9236},{"m":150,"t":4.14,"v":5.9258},
{"m":150,"t":4.2,"v":5.9293},{"m":150,"t":4.26,"v":5.9222},{"m":150,"t":4.32,"v":5.9256},{"m":150,"t":4.38,"v":5.9240},{"m":150,"t":4.44,"v":5.9273},{"m":150,"t":4.5,"v":5.9251},{"m":150,"t":4.56,"v":5.9265},{"m":150,"t":4.62,"v":5.9231},{"m":150,"t":4.68,"v":5.9281},{"m":150,"t":4.74,"v":5.9246},{"m":150,"t":4.8,"v":5.9221},
{"m":350,"t":0,"v":5.9078},{"m":350,"t":0.08,"v":5.9111},{"m":350,"t":0.16,"v":5.9115},{"m":350,"t":0.24,"v":5.9147},{"m":350,"t":0.32,"v":5.9119},{"m":350,"t":0.4,"v":5.9141},{"m":350,"t":0.48,"v":5.9165},{"m":350,"t":0.56,"v":5.9146},{"m":350,"t":0.64,"v":5.9166},{"m":350,"t":0.72,"v":5.9139},
{"m":350,"t":0.8,"v":5.9183},{"m":350,"t":0.88,"v":5.9194},{"m":350,"t":0.96,"v":5.9175},{"m":350,"t":1.04,"v":5.9186},{"m":350,"t":1.12,"v":5.9198},{"m":350,"t":1.2,"v":5.9180},{"m":350,"t":1.28,"v":5.9223},{"m":350,"t":1.36,"v":5.9199},{"m":350,"t":1.44,"v":5.9194},{"m":350,"t":1.52,"v":5.9220},
{"m":350,"t":1.6,"v":5.9205},{"m":350,"t":1.68,"v":5.9217},{"m":350,"t":1.76,"v":5.9197},{"m":350,"t":1.84,"v":5.9238},{"m":350,"t":1.92,"v":5.9222},{"m":350,"t":2,"v":5.9237},{"m":350,"t":2.08,"v":5.9216},{"m":350,"t":2.16,"v":5.9222},{"m":350,"t":2.24,"v":5.9252},{"m":350,"t":2.32,"v":5.9230},
{"m":350,"t":2.4,"v":5.9239},{"m":350,"t":2.48,"v":5.9220},{"m":350,"t":2.56,"v":5.9251},{"m":350,"t":2.64,"v":5.9246},{"m":350,"t":2.72,"v":5.9218},{"m":350,"t":2.8,"v":5.9250},{"m":350,"t":2.88,"v":5.9237},{"m":350,"t":2.96,"v":5.9262},{"m":350,"t":3.04,"v":5.9233},{"m":350,"t":3.12,"v":5.9245},
{"m":350,"t":3.2,"v":5.9273},{"m":350,"t":3.28,"v":5.9232},{"m":350,"t":3.36,"v":5.9251},{"m":350,"t":3.44,"v":5.9237},{"m":350,"t":3.52,"v":5.9265},{"m":350,"t":3.6,"v":5.9243},{"m":350,"t":3.68,"v":5.9233},{"m":350,"t":3.76,"v":5.9259},{"m":350,"t":3.84,"v":5.9263},{"m":350,"t":3.92,"v":5.9250},
{"m":350,"t":4,"v":5.9228},{"m":350,"t":4.08,"v":5.9274},{"m":350,"t":4.16,"v":5.9253},{"m":350,"t":4.24,"v":5.9263},{"m":350,"t":4.32,"v":5.9242},{"m":350,"t":4.4,"v":5.9256},{"m":350,"t":4.48,"v":5.9247},{"m":350,"t":4.56,"v":5.9270},{"m":350,"t":4.64,"v":5.9238},{"m":350,"t":4.72,"v":5.9261},{"m":350,"t":4.8,"v":5.9277},
{"m":700,"t":0,"v":5.9102},{"m":700,"t":0.12,"v":5.9097},{"m":700,"t":0.24,"v":5.9124},{"m":700,"t":0.36,"v":5.9148},{"m":700,"t":0.48,"v":5.9146},{"m":700,"t":0.6,"v":5.9174},{"m":700,"t":0.72,"v":5.9157},{"m":700,"t":0.84,"v":5.9180},{"m":700,"t":0.96,"v":5.9190},{"m":700,"t":1.08,"v":5.9183},
{"m":700,"t":1.2,"v":5.9212},{"m":700,"t":1.32,"v":5.9201},{"m":700,"t":1.44,"v":5.9190},{"m":700,"t":1.56,"v":5.9219},{"m":700,"t":1.68,"v":5.9228},{"m":700,"t":1.8,"v":5.9217},{"m":700,"t":1.92,"v":5.9227},{"m":700,"t":2.04,"v":5.9244},{"m":700,"t":2.16,"v":5.9223},{"m":700,"t":2.28,"v":5.9239},
{"m":700,"t":2.4,"v":5.9233},{"m":700,"t":2.52,"v":5.9257},{"m":700,"t":2.64,"v":5.9235},{"m":700,"t":2.76,"v":5.9246},{"m":700,"t":2.88,"v":5.9232},{"m":700,"t":3,"v":5.9255},{"m":700,"t":3.12,"v":5.9253},{"m":700,"t":3.24,"v":5.9245},{"m":700,"t":3.36,"v":5.9264},{"m":700,"t":3.48,"v":5.9235},
{"m":700,"t":3.6,"v":5.9253},{"m":700,"t":3.72,"v":5.9251},{"m":700,"t":3.84,"v":5.9262},{"m":700,"t":3.96,"v":5.9243},{"m":700,"t":4.08,"v":5.9259},{"m":700,"t":4.2,"v":5.9247},{"m":700,"t":4.32,"v":5.9272},{"m":700,"t":4.44,"v":5.9251},{"m":700,"t":4.56,"v":5.9242},{"m":700,"t":4.68,"v":5.9259},{"m":700,"t":4.8,"v":5.9264},
{"m":1050,"t":0,"v":5.9098},{"m":1050,"t":0.12,"v":5.9103},{"m":1050,"t":0.24,"v":5.9123},{"m":1050,"t":0.36,"v":5.9155},{"m":1050,"t":0.48,"v":5.9151},{"m":1050,"t":0.6,"v":5.9167},{"m":1050,"t":0.72,"v":5.9163},{"m":1050,"t":0.84,"v":5.9188},{"m":1050,"t":0.96,"v":5.9191},{"m":1050,"t":1.08,"v":5.9180},
{"m":1050,"t":1.2,"v":5.9205},{"m":1050,"t":1.32,"v":5.9202},{"m":1050,"t":1.44,"v":5.9220},{"m":1050,"t":1.56,"v":5.9208},{"m":1050,"t":1.68,"v":5.9220},{"m":1050,"t":1.8,"v":5.9240},{"m":1050,"t":1.92,"v":5.9221},{"m":1050,"t":2.04,"v":5.9236},{"m":1050,"t":2.16,"v":5.9230},{"m":1050,"t":2.28,"v":5.9246},
{"m":1050,"t":2.4,"v":5.9236},{"m":1050,"t":2.52,"v":5.9232},{"m":1050,"t":2.64,"v":5.9249},{"m":1050,"t":2.76,"v":5.9253},{"m":1050,"t":2.88,"v":5.9246},{"m":1050,"t":3,"v":5.9234},{"m":1050,"t":3.12,"v":5.9262},{"m":1050,"t":3.24,"v":5.9250},{"m":1050,"t":3.36,"v":5.9257},{"m":1050,"t":3.48,"v":5.9246},
{"m":1050,"t":3.6,"v":5.9254},{"m":1050,"t":3.72,"v":5.9250},{"m":1050,"t":3.84,"v":5.9263},{"m":1050,"t":3.96,"v":5.9245},{"m":1050,"t":4.08,"v":5.9258},{"m":1050,"t":4.2,"v":5.9269},{"m":1050,"t":4.32,"v":5.9251},{"m":1050,"t":4.44,"v":5.9253},{"m":1050,"t":4.56,"v":5.9265},{"m":1050,"t":4.68,"v":5.9245},{"m":1050,"t":4.8,"v":5.9258},
{"m":2100,"t":0,"v":5.9095},{"m":2100,"t":0.16,"v":5.9125},{"m":2100,"t":0.32,"v":5.9134},{"m":2100,"t":0.48,"v":5.9145},{"m":2100,"t":0.64,"v":5.9168},{"m":2100,"t":0.8,"v":5.9182},{"m":2100,"t":0.96,"v":5.9183},{"m":2100,"t":1.12,"v":5.9194},{"m":2100,"t":1.28,"v":5.9193},{"m":2100,"t":1.44,"v":5.9215},
{"m":2100,"t":1.6,"v":5.9217},{"m":2100,"t":1.76,"v":5.9216},{"m":2100,"t":1.92,"v":5.9231},{"m":2100,"t":2.08,"v":5.9231},{"m":2100,"t":2.24,"v":5.9247},{"m":2100,"t":2.4,"v":5.9235},{"m":2100,"t":2.56,"v":5.9236},{"m":2100,"t":2.72,"v":5.9247},{"m":2100,"t":2.88,"v":5.9246},{"m":2100,"t":3.04,"v":5.9244},
{"m":2100,"t":3.2,"v":5.9254},{"m":2100,"t":3.36,"v":5.9240},{"m":2100,"t":3.52,"v":5.9252},{"m":2100,"t":3.68,"v":5.9257},{"m":2100,"t":3.84,"v":5.9247},{"m":2100,"t":4,"v":5.9256},{"m":2100,"t":4.16,"v":5.9253},{"m":2100,"t":4.32,"v":5.9263},{"m":2100,"t":4.48,"v":5.9247},{"m":2100,"t":4.64,"v":5.9256},{"m":2100,"t":4.8,"v":5.9251},
{"m":4900,"t":0,"v":5.9092},{"m":4900,"t":0.16,"v":5.9113},{"m":4900,"t":0.32,"v":5.9141},{"m":4900,"t":0.48,"v":5.9149},{"m":4900,"t":0.64,"v":5.9166},{"m":4900,"t":0.8,"v":5.9185},{"m":4900,"t":0.96,"v":5.9182},{"m":4900,"t":1.12,"v":5.9195},{"m":4900,"t":1.28,"v":5.9199},{"m":4900,"t":1.44,"v":5.9212},
{"m":4900,"t":1.6,"v":5.9213},{"m":4900,"t":1.76,"v":5.9216},{"m":4900,"t":1.92,"v":5.9229},{"m":4900,"t":2.08,"v":5.9235},{"m":4900,"t":2.24,"v":5.9234},{"m":4900,"t":2.4,"v":5.9232},{"m":4900,"t":2.56,"v":5.9248},{"m":4900,"t":2.72,"v":5.9244},{"m":4900,"t":2.88,"v":5.9248},{"m":4900,"t":3.04,"v":5.9244},
{"m":4900,"t":3.2,"v":5.9249},{"m":4900,"t":3.36,"v":5.9248},{"m":4900,"t":3.52,"v":5.9255},{"m":4900,"t":3.68,"v":5.9247},{"m":4900,"t":3.84,"v":5.9254},{"m":4900,"t":4,"v":5.9259},{"m":4900,"t":4.16,"v":5.9252},{"m":4900,"t":4.32,"v":5.9253},{"m":4900,"t":4.48,"v":5.9258},{"m":4900,"t":4.64,"v":5.9250},{"m":4900,"t":4.8,"v":5.9255},
{"m":9000,"t":0,"v":5.9091},{"m":9000,"t":0.2,"v":5.9118},{"m":9000,"t":0.4,"v":5.9147},{"m":9000,"t":0.6,"v":5.9162},{"m":9000,"t":0.8,"v":5.9183},{"m":9000,"t":1,"v":5.9186},{"m":9000,"t":1.2,"v":5.9195},{"m":9000,"t":1.4,"v":5.9209},{"m":9000,"t":1.6,"v":5.9215},{"m":9000,"t":1.8,"v":5.9221},
{"m":9000,"t":2,"v":5.9233},{"m":9000,"t":2.2,"v":5.9229},{"m":9000,"t":2.4,"v":5.9240},{"m":9000,"t":2.6,"v":5.9244},{"m":9000,"t":2.8,"v":5.9243},{"m":9000,"t":3,"v":5.9248},{"m":9000,"t":3.2,"v":5.9248},{"m":9000,"t":3.4,"v":5.9254},{"m":9000,"t":3.6,"v":5.9248},{"m":9000,"t":3.8,"v":5.9252},
{"m":9000,"t":4,"v":5.9251},{"m":9000,"t":4.2,"v":5.9257},{"m":9000,"t":4.4,"v":5.9256},{"m":9000,"t":4.6,"v":5.9251},{"m":9000,"t":4.8,"v":5.9256},
{"m":20100,"t":0,"v":5.9089},{"m":20100,"t":0.2,"v":5.9122},{"m":20100,"t":0.4,"v":5.9147},{"m":20100,"t":0.6,"v":5.9162},{"m":20100,"t":0.8,"v":5.9177},{"m":20100,"t":1,"v":5.9191},{"m":20100,"t":1.2,"v":5.9196},{"m":20100,"t":1.4,"v":5.9207},{"m":20100,"t":1.6,"v":5.9216},{"m":20100,"t":1.8,"v":5.9221},
{"m":20100,"t":2,"v":5.9232},{"m":20100,"t":2.2,"v":5.9231},{"m":20100,"t":2.4,"v":5.9239},{"m":20100,"t":2.6,"v":5.9243},{"m":20100,"t":2.8,"v":5.9243},{"m":20100,"t":3,"v":5.9249},{"m":20100,"t":3.2,"v":5.9248},{"m":20100,"t":3.4,"v":5.9247},{"m":20100,"t":3.6,"v":5.9252},{"m":20100,"t":3.8,"v":5.9254},
{"m":20100,"t":4,"v":5.9252},{"m":20100,"t":4.2,"v":5.9254},{"m":20100,"t":4.4,"v":5.9256},{"m":20100,"t":4.6,"v":5.9253},{"m":20100,"t":4.8,"v":5.9256},
{"m":50,"t":0.02,"v":5.9078},{"m":50,"t":0.06,"v":5.9157},{"m":50,"t":0.1,"v":5.9022},{"m":50,"t":0.14,"v":5.9131},{"m":50,"t":0.18,"v":5.9080},{"m":50,"t":0.22,"v":5.9192},{"m":50,"t":0.26,"v":5.9156},{"m":50,"t":0.3,"v":5.9069},{"m":50,"t":0.34,"v":5.9131},{"m":50,"t":0.38,"v":5.9192},
{"m":50,"t":0.42,"v":5.9147},{"m":50,"t":0.46,"v":5.9079},{"m":50,"t":0.5,"v":5.9234},{"m":50,"t":0.54,"v":5.9135},{"m":50,"t":0.58,"v":5.9176},{"m":50,"t":0.62,"v":5.9123},{"m":50,"t":0.66,"v":5.9210},{"m":50,"t":0.7,"v":5.9204},{"m":50,"t":0.74,"v":5.9082},{"m":50,"t":0.78,"v":5.9180},
{"m":50,"t":0.82,"v":5.9239},{"m":50,"t":0.86,"v":5.9151},{"m":50,"t":0.9,"v":5.9213},{"m":50,"t":0.94,"v":5.9128},{"m":50,"t":0.98,"v":5.9271},{"m":50,"t":1.02,"v":5.9178},{"m":50,"t":1.06,"v":5.9145},{"m":50,"t":1.1,"v":5.9239},{"m":50,"t":1.14,"v":5.9206},{"m":50,"t":1.18,"v":5.9170},
{"m":50,"t":1.22,"v":5.9271},{"m":50,"t":1.26,"v":5.9125},{"m":50,"t":1.3,"v":5.9226},{"m":50,"t":1.34,"v":5.9200},{"m":50,"t":1.38,"v":5.9259},{"m":50,"t":1.42,"v":5.9140},{"m":50,"t":1.46,"v":5.9194},{"m":50,"t":1.5,"v":5.9249},{"m":50,"t":1.54,"v":5.9232},{"m":50,"t":1.58,"v":5.9153},
{"m":50,"t":1.62,"v":5.9307},{"m":50,"t":1.66,"v":5.9183},{"m":50,"t":1.7,"v":5.9227},{"m":50,"t":1.74,"v":5.9167},{"m":50,"t":1.78,"v":5.9287},{"m":50,"t":1.82,"v":5.9250},{"m":50,"t":1.86,"v":5.9206},{"m":50,"t":1.9,"v":5.9275},{"m":50,"t":1.94,"v":5.9129},{"m":50,"t":1.98,"v":5.9244},
{"m":50,"t":2.02,"v":5.9273},{"m":50,"t":2.06,"v":5.9194},{"m":50,"t":2.1,"v":5.9225},{"m":50,"t":2.14,"v":5.9310},{"m":50,"t":2.18,"v":5.9162},{"m":50,"t":2.22,"v":5.9269},{"m":50,"t":2.26,"v":5.9213},{"m":50,"t":2.3,"v":5.9294},{"m":50,"t":2.34,"v":5.9189},{"m":50,"t":2.38,"v":5.9239},
{"m":50,"t":2.42,"v":5.9286},{"m":50,"t":2.46,"v":5.9161},{"m":50,"t":2.5,"v":5.9271},{"m":50,"t":2.54,"v":5.9231},{"m":50,"t":2.58,"v":5.9200},{"m":50,"t":2.62,"v":5.9330},{"m":50,"t":2.66,"v":5.9258},{"m":50,"t":2.7,"v":5.9179},{"m":50,"t":2.74,"v":5.9312},{"m":50,"t":2.78,"v":5.9218},
{"m":50,"t":2.82,"v":5.9256},{"m":50,"t":2.86,"v":5.9208},{"m":50,"t":2.9,"v":5.9307},{"m":50,"t":2.94,"v":5.9270},{"m":50,"t":2.98,"v":5.9160},{"m":50,"t":3.02,"v":5.9296},{"m":50,"t":3.06,"v":5.9217},{"m":50,"t":3.1,"v":5.9244},{"m":50,"t":3.14,"v":5.9328},{"m":50,"t":3.18,"v":5.9195},
{"m":50,"t":3.22,"v":5.9268},{"m":50,"t":3.26,"v":5.9287},{"m":50,"t":3.3,"v":5.9188},{"m":50,"t":3.34,"v":5.9258},{"m":50,"t":3.38,"v":5.9216},{"m":50,"t":3.42,"v":5.9322},{"m":50,"t":3.46,"v":5.9278},{"m":50,"t":3.5,"v":5.9167},{"m":50,"t":3.54,"v":5.9232},{"m":50,"t":3.58,"v":5.9304},
{"m":50,"t":3.62,"v":5.9205},{"m":50,"t":3.66,"v":5.9286},{"m":50,"t":3.7,"v":5.9252},{"m":50,"t":3.74,"v":5.9184},{"m":50,"t":3.78,"v":5.9347},{"m":50,"t":3.82,"v":5.9229},{"m":50,"t":3.86,"v":5.9283},{"m":50,"t":3.9,"v":5.9204},{"m":50,"t":3.94,"v":5.9318},{"m":50,"t":3.98,"v":5.9245},
{"m":50,"t":4.02,"v":5.9295},{"m":50,"t":4.06,"v":5.9177},{"m":50,"t":4.1,"v":5.9264},{"m":50,"t":4.14,"v":5.9239},{"m":50,"t":4.18,"v":5.9330},{"m":50,"t":4.22,"v":5.9277},{"m":50,"t":4.26,"v":5.9197},{"m":50,"t":4.3,"v":5.9224},{"m":50,"t":4.34,"v":5.9300},{"m":50,"t":4.38,"v":5.9258},
{"m":50,"t":4.42,"v":5.9163},{"m":50,"t":4.46,"v":5.9322},{"m":50,"t":4.5,"v":5.9288},{"m":50,"t":4.54,"v":5.9213},{"m":50,"t":4.58,"v":5.9244},{"m":50,"t":4.62,"v":5.9339},{"m":50,"t":4.66,"v":5.9270},{"m":50,"t":4.7,"v":5.9183},{"m":50,"t":4.74,"v":5.9312},{"m":50,"t":4.78,"v":5.9228},
{"m":150,"t":0.03,"v":5.9064},{"m":150,"t":0.09,"v":5.9150},{"m":150,"t":0.15,"v":5.9112},{"m":150,"t":0.21,"v":5.9104},{"m":150,"t":0.27,"v":5.9159},{"m":150,"t":0.33,"v":5.9086},{"m":150,"t":0.39,"v":5.9157},{"m":150,"t":0.45,"v":5.9185},{"m":150,"t":0.51,"v":5.9133},{"m":150,"t":0.57,"v":5.9167},
{"m":150,"t":0.63,"v":5.9150},{"m":150,"t":0.69,"v":5.9209},{"m":150,"t":0.75,"v":5.9136},{"m":150,"t":0.81,"v":5.9186},{"m":150,"t":0.87,"v":5.9232},{"m":150,"t":0.93,"v":5.9160},{"m":150,"t":0.99,"v":5.9180},{"m":150,"t":1.05,"v":5.9208},{"m":150,"t":1.11,"v":5.9147},{"m":150,"t":1.17,"v":5.9222},
{"m":150,"t":1.23,"v":5.9199},{"m":150,"t":1.29,"v":5.9173},{"m":150,"t":1.35,"v":5.9237},{"m":150,"t":1.41,"v":5.9194},{"m":150,"t":1.47,"v":5.9229},{"m":150,"t":1.53,"v":5.9170},{"m":150,"t":1.59,"v":5.9258},{"m":150,"t":1.65,"v":5.9213},{"m":150,"t":1.71,"v":5.9197},{"m":150,"t":1.77,"v":5.9245},
{"m":150,"t":1.83,"v":5.9232},{"m":150,"t":1.89,"v":5.9169},{"m":150,"t":1.95,"v":5.9257},{"m":150,"t":2.01,"v":5.9219},{"m":150,"t":2.07,"v":5.9247},{"m":150,"t":2.13,"v":5.9270},{"m":150,"t":2.19,"v":5.9203},{"m":150,"t":2.25,"v":5.9239},{"m":150,"t":2.31,"v":5.9217},{"m":150,"t":2.37,"v":5.9291},
{"m":150,"t":2.43,"v":5.9204},{"m":150,"t":2.49,"v":5.9252},{"m":150,"t":2.55,"v":5.9264},{"m":150,"t":2.61,"v":5.9233},{"m":150,"t":2.67,"v":5.9203},{"m":150,"t":2.73,"v":5.9275},{"m":150,"t":2.79,"v":5.9243},{"m":150,"t":2.85,"v":5.9258},{"m":150,"t":2.91,"v":5.9202},{"m":150,"t":2.97,"v":5.9289},
{"m":150,"t":3.03,"v":5.9232},{"m":150,"t":3.09,"v":5.9255},{"m":150,"t":3.15,"v":5.9274},{"m":150,"t":3.21,"v":5.9222},{"m":150,"t":3.27,"v":5.9242},{"m":150,"t":3.33,"v":5.9297},{"m":150,"t":3.39,"v":5.9217},{"m":150,"t":3.45,"v":5.9268},{"m":150,"t":3.51,"v":5.9233},{"m":150,"t":3.57,"v":5.9286},
{"m":150,"t":3.63,"v":5.9253},{"m":150,"t":3.69,"v":5.9199},{"m":150,"t":3.75,"v":5.9272},{"m":150,"t":3.81,"v":5.9276},{"m":150,"t":3.87,"v":5.9228},{"m":150,"t":3.93,"v":5.9262},{"m":150,"t":3.99,"v":5.9240},{"m":150,"t":4.05,"v":5.9299},{"m":150,"t":4.11,"v":5.9211},{"m":150,"t":4.17,"v":5.9253},
{"m":150,"t":4.23,"v":5.9283},{"m":150,"t":4.29,"v":5.9250},{"m":150,"t":4.35,"v":5.9217},{"m":150,"t":4.41,"v":5.9269},{"m":150,"t":4.47,"v":5.9294},{"m":150,"t":4.53,"v":5.9233},{"m":150,"t":4.59,"v":5.9266},{"m":150,"t":4.65,"v":5.9207},{"m":150,"t":4.71,"v":5.9288},{"m":150,"t":4.77,"v":5.9246}
]
},
"spacing": 68,
"resolve": {"scale": {"color": "independent"}},
"hconcat": [
{
  "width": 463, "height": 372,
  "resolve": {"axis": {"x": "independent", "y": "independent"}},
  "layer": [
    {"data": {"name": "L"}, "mark": {"type": "line", "strokeWidth": 1.7, "clip": true},
     "encoding": {
       "x": {"field": "t", "type": "quantitative", "scale": {"domain": [0, 4.8], "nice": false, "zero": false},
             "axis": {"orient": "bottom", "values": [0,0.5,1,1.5,2,2.5,3,3.5,4,4.5], "labelExpr": "abs(datum.value - round(datum.value)) < 0.01 ? format(datum.value, '.0f') : ''", "tickSize": {"condition": {"test": "abs(datum.value - round(datum.value)) < 0.01", "value": -7}, "value": -4}, "labelPadding": 22, "title": "t [ms]", "titlePadding": 4}},
       "y": {"field": "v", "type": "quantitative", "scale": {"domain": [6.0, 6.03], "nice": false, "zero": false},
             "axis": {"orient": "left", "values": [6.0,6.005,6.01,6.015,6.02,6.025,6.03], "labelExpr": "abs(datum.value*100 - round(datum.value*100)) < 0.01 ? replace(format(datum.value, '.2f'), '.', ',') : ''", "tickSize": {"condition": {"test": "abs(datum.value*100 - round(datum.value*100)) < 0.01", "value": -7}, "value": -4}, "labelPadding": 21, "title": "Iₖ [µA]", "titlePadding": 20}},
       "color": {"field": "m", "type": "nominal", "scale": {"domain": [50,150,350,700,1050,2100,4900,9000,20100], "range": ["#e100ff","#8c1eff","#0008f0","#1e96ff","#2dffd2","#c6ff3a","#ffc400","#ff7d0a","#ff2d0a"]}, "legend": null}
     }},
    {"data": {"name": "L"}, "mark": {"type": "line", "strokeOpacity": 0, "clip": true},
     "encoding": {
       "x": {"field": "t", "type": "quantitative", "scale": {"domain": [0, 4.8], "nice": false, "zero": false},
             "axis": {"orient": "top", "values": [0,0.5,1,1.5,2,2.5,3,3.5,4,4.5], "labels": false, "tickSize": {"condition": {"test": "abs(datum.value - round(datum.value)) < 0.01", "value": -7}, "value": -4}, "title": null}},
       "y": {"field": "v", "type": "quantitative", "scale": {"domain": [6.0, 6.03], "nice": false, "zero": false},
             "axis": {"orient": "right", "values": [6.0,6.005,6.01,6.015,6.02,6.025,6.03], "labels": false, "tickSize": {"condition": {"test": "abs(datum.value*100 - round(datum.value*100)) < 0.01", "value": -7}, "value": -4}, "title": null}},
       "detail": {"field": "m"}
     }},
    {"data": {"values": [{}]}, "mark": {"type": "text", "text": "U", "font": "Liberation Serif", "fontStyle": "italic", "fontSize": 27, "align": "left", "baseline": "alphabetic"},
     "encoding": {"x": {"datum": 0.35, "type": "quantitative", "scale": {"domain": [0, 4.8], "nice": false, "zero": false}, "axis": null}, "y": {"datum": 6.02734, "type": "quantitative", "scale": {"domain": [6.0, 6.03], "nice": false, "zero": false}, "axis": null}}},
    {"data": {"values": [{}]}, "mark": {"type": "text", "text": "G", "font": "Liberation Serif", "fontSize": 11, "align": "left", "baseline": "alphabetic", "dx": 19, "dy": 3},
     "encoding": {"x": {"datum": 0.35, "type": "quantitative", "scale": {"domain": [0, 4.8], "nice": false, "zero": false}, "axis": null}, "y": {"datum": 6.02734, "type": "quantitative", "scale": {"domain": [6.0, 6.03], "nice": false, "zero": false}, "axis": null}}},
    {"data": {"values": [{}]}, "mark": {"type": "text", "text": "= 0,0 V (", "font": "Liberation Sans", "fontSize": 25, "align": "left", "baseline": "alphabetic", "dx": 31},
     "encoding": {"x": {"datum": 0.35, "type": "quantitative", "scale": {"domain": [0, 4.8], "nice": false, "zero": false}, "axis": null}, "y": {"datum": 6.02734, "type": "quantitative", "scale": {"domain": [6.0, 6.03], "nice": false, "zero": false}, "axis": null}}},
    {"data": {"values": [{}]}, "mark": {"type": "text", "text": "s", "font": "Liberation Serif", "fontStyle": "italic", "fontSize": 27, "align": "left", "baseline": "alphabetic", "dx": 129},
     "encoding": {"x": {"datum": 0.35, "type": "quantitative", "scale": {"domain": [0, 4.8], "nice": false, "zero": false}, "axis": null}, "y": {"datum": 6.02734, "type": "quantitative", "scale": {"domain": [6.0, 6.03], "nice": false, "zero": false}, "axis": null}}},
    {"data": {"values": [{}]}, "mark": {"type": "text", "text": "1", "font": "Liberation Serif", "fontSize": 12, "align": "left", "baseline": "alphabetic", "dx": 139, "dy": 4},
     "encoding": {"x": {"datum": 0.35, "type": "quantitative", "scale": {"domain": [0, 4.8], "nice": false, "zero": false}, "axis": null}, "y": {"datum": 6.02734, "type": "quantitative", "scale": {"domain": [6.0, 6.03], "nice": false, "zero": false}, "axis": null}}},
    {"data": {"values": [{}]}, "mark": {"type": "text", "text": ")", "font": "Liberation Sans", "fontSize": 25, "align": "left", "baseline": "alphabetic", "dx": 145},
     "encoding": {"x": {"datum": 0.35, "type": "quantitative", "scale": {"domain": [0, 4.8], "nice": false, "zero": false}, "axis": null}, "y": {"datum": 6.02734, "type": "quantitative", "scale": {"domain": [6.0, 6.03], "nice": false, "zero": false}, "axis": null}}},
    {"data": {"values": [{}]}, "mark": {"type": "text", "text": "Beladung", "font": "Liberation Sans", "fontSize": 25.5, "align": "right", "baseline": "alphabetic"},
     "encoding": {"x": {"datum": 4.683, "type": "quantitative", "scale": {"domain": [0, 4.8], "nice": false, "zero": false}, "axis": null}, "y": {"datum": 6.02718, "type": "quantitative", "scale": {"domain": [6.0, 6.03], "nice": false, "zero": false}, "axis": null}}}
  ]
},
{
  "width": 464, "height": 372,
  "resolve": {"axis": {"x": "independent", "y": "independent"}},
  "layer": [
    {"data": {"name": "R"}, "mark": {"type": "line", "strokeWidth": 1.7, "clip": true},
     "encoding": {
       "x": {"field": "t", "type": "quantitative", "scale": {"domain": [0, 4.8], "nice": false, "zero": false},
             "axis": {"orient": "bottom", "values": [0,0.5,1,1.5,2,2.5,3,3.5,4,4.5], "labelExpr": "abs(datum.value - round(datum.value)) < 0.01 ? format(datum.value, '.0f') : ''", "tickSize": {"condition": {"test": "abs(datum.value - round(datum.value)) < 0.01", "value": -7}, "value": -4}, "labelPadding": 22, "title": "t [ms]", "titlePadding": 4}},
       "y": {"field": "v", "type": "quantitative", "scale": {"domain": [5.9, 5.94], "nice": false, "zero": false},
             "axis": {"orient": "right", "values": [5.9,5.905,5.91,5.915,5.92,5.925,5.93,5.935,5.94], "labelExpr": "abs(datum.value*100 - round(datum.value*100)) < 0.01 ? replace(format(datum.value, '.2f'), '.', ',') : ''", "tickSize": {"condition": {"test": "abs(datum.value*100 - round(datum.value*100)) < 0.01", "value": -7}, "value": -4}, "labelPadding": 18, "title": "Iₖ [µA]", "titleAngle": -90, "titlePadding": 40}},
       "color": {"field": "m", "type": "nominal", "scale": {"domain": [50,150,350,700,1050,2100,4900,9000,20100], "range": ["#e100ff","#8c1eff","#0008f0","#1e96ff","#2dffd2","#c6ff3a","#ffc400","#ff7d0a","#ff2d0a"]},
                 "legend": {"orient": "bottom-right", "offset": 0, "columns": 2, "title": "Mittelungen m:", "titleFontSize": 23, "titleFontWeight": "normal", "titleColor": "black", "titleFont": "Liberation Sans", "titlePadding": 5, "labelFontSize": 21, "labelColor": "black", "labelFont": "Liberation Sans", "symbolType": "M0.47,0H4.3", "symbolSize": 324, "symbolStrokeWidth": 4, "labelOffset": 38, "rowPadding": 2.5, "columnPadding": 8, "padding": 7, "fillColor": "white", "strokeColor": "black", "labelLimit": 200}}
     }},
    {"data": {"name": "R"}, "mark": {"type": "line", "strokeOpacity": 0, "clip": true},
     "encoding": {
       "x": {"field": "t", "type": "quantitative", "scale": {"domain": [0, 4.8], "nice": false, "zero": false},
             "axis": {"orient": "top", "values": [0,0.5,1,1.5,2,2.5,3,3.5,4,4.5], "labels": false, "tickSize": {"condition": {"test": "abs(datum.value - round(datum.value)) < 0.01", "value": -7}, "value": -4}, "title": null}},
       "y": {"field": "v", "type": "quantitative", "scale": {"domain": [5.9, 5.94], "nice": false, "zero": false},
             "axis": {"orient": "left", "values": [5.9,5.905,5.91,5.915,5.92,5.925,5.93,5.935,5.94], "labels": false, "tickSize": {"condition": {"test": "abs(datum.value*100 - round(datum.value*100)) < 0.01", "value": -7}, "value": -4}, "title": null}},
       "detail": {"field": "m"}
     }},
    {"data": {"values": [{}]}, "mark": {"type": "text", "text": "Entladung", "font": "Liberation Sans", "fontSize": 25.5, "align": "left", "baseline": "alphabetic"},
     "encoding": {"x": {"datum": 0.173, "type": "quantitative", "scale": {"domain": [0, 4.8], "nice": false, "zero": false}, "axis": null}, "y": {"datum": 5.9362, "type": "quantitative", "scale": {"domain": [5.9, 5.94], "nice": false, "zero": false}, "axis": null}}},
    {"data": {"values": [{}]}, "mark": {"type": "text", "text": "#14846", "font": "Liberation Sans", "fontSize": 25.5, "align": "right", "baseline": "alphabetic"},
     "encoding": {"x": {"datum": 4.647, "type": "quantitative", "scale": {"domain": [0, 4.8], "nice": false, "zero": false}, "axis": null}, "y": {"datum": 5.9361, "type": "quantitative", "scale": {"domain": [5.9, 5.94], "nice": false, "zero": false}, "axis": null}}}
  ]
}
]
}
